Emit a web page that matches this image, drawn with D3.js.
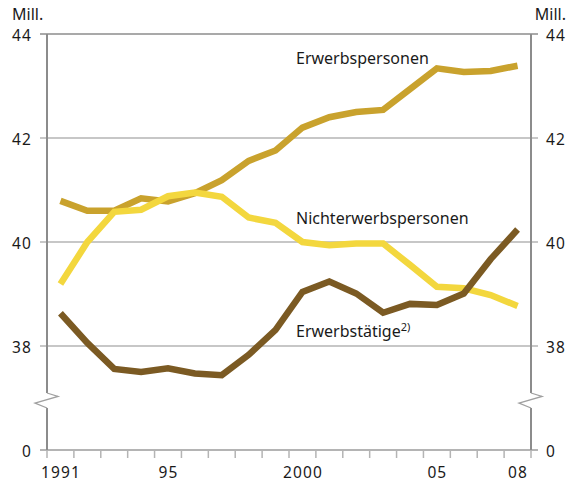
<!DOCTYPE html>
<html>
<head>
<meta charset="utf-8">
<script src="https://cdn.jsdelivr.net/npm/d3@7"></script>
<style>
  body { margin: 0; background: #fff; }
  text { font-family: "Noto Sans", sans-serif; fill: #1a1a1a; }
  .num { font-size: 15.5px; letter-spacing: 1.1px; }
</style>
</head>
<body>
<div id="container"></div>
<script>
var width = 570;
var height = 483;

var years = [1991, 1992, 1993, 1994, 1995, 1996, 1997, 1998, 1999, 2000,
             2001, 2002, 2003, 2004, 2005, 2006, 2007, 2008];
var yearLabels = {1991: "1991", 1995: "95", 2000: "2000", 2005: "05", 2008: "08"};
var yTicks = [38, 40, 42, 44];

var erwerbspersonen = [40.79, 40.6, 40.6, 40.84, 40.78, 40.94, 41.19, 41.56, 41.76, 42.2,
                       42.4, 42.5, 42.54, 42.94, 43.34, 43.27, 43.29, 43.39];
var nichterwerbspersonen = [39.19, 40.0, 40.58, 40.62, 40.88, 40.95, 40.87, 40.47, 40.37, 40.0,
                            39.94, 39.97, 39.97, 39.56, 39.14, 39.11, 38.98, 38.77];
var erwerbstaetige = [38.63, 38.06, 37.56, 37.5, 37.57, 37.47, 37.44, 37.83, 38.31, 39.04,
                      39.24, 39.01, 38.64, 38.81, 38.79, 39.01, 39.67, 40.24];

var series = [
  {name: "Erwerbspersonen", values: erwerbspersonen, color: "#c9a22d"},
  {name: "Nichterwerbspersonen", values: nichterwerbspersonen, color: "#f3d73e"},
  {name: "Erwerbstätige", values: erwerbstaetige, color: "#7b5a23"}
];

var left = 47, right = 531, baseY = 450;

var xScale = d3.scaleBand().domain(years).range([left, right]);
var yScale = d3.scaleLinear().domain([38, 44]).range([346, 34]);

var svg = d3.select('#container').append('svg')
    .attr('width', width).attr('height', height);

// horizontal grid lines
svg.append('g').selectAll('line')
    .data(yTicks)
    .enter().append('line')
    .attr('x1', left - 7).attr('x2', right + 7)
    .attr('y1', function(d){ return yScale(d); })
    .attr('y2', function(d){ return yScale(d); })
    .attr('stroke', function(d){ return d === 44 ? '#8c8c8c' : '#b4b4b4'; })
    .attr('stroke-width', 1.5);

// baseline + year ticks
svg.append('line')
    .attr('x1', left - 7).attr('x2', right + 7)
    .attr('y1', baseY).attr('y2', baseY)
    .attr('stroke', '#b4b4b4').attr('stroke-width', 2);

var tickPos = years.map(function(d){ return xScale(d); }).concat([right]);
svg.append('g').selectAll('line')
    .data(tickPos)
    .enter().append('line')
    .attr('x1', function(d){ return d; }).attr('x2', function(d){ return d; })
    .attr('y1', baseY).attr('y2', baseY + 8)
    .attr('stroke', '#b4b4b4').attr('stroke-width', 1.5);

// vertical axes with break
var breakTop = 393, breakBot = 408;
[left, right].forEach(function(x){
  svg.append('line')
    .attr('x1', x).attr('x2', x).attr('y1', 34).attr('y2', breakTop)
    .attr('stroke', '#8c8c8c').attr('stroke-width', 2);
  svg.append('line')
    .attr('x1', x).attr('x2', x).attr('y1', breakBot).attr('y2', baseY)
    .attr('stroke', '#8c8c8c').attr('stroke-width', 2);
  svg.append('polyline')
    .attr('points', [[x, breakTop], [x + 11, breakTop + 3.5], [x - 12, breakTop + 10], [x, breakBot]].join(' '))
    .attr('fill', 'none')
    .attr('stroke', '#a0a0a0').attr('stroke-width', 1.3);
});

// y labels
var yLabelData = yTicks.map(function(d){ return {v: d, y: yScale(d)}; }).concat([{v: 0, y: baseY}]);
svg.append('g').selectAll('text')
    .data(yLabelData)
    .enter().append('text')
    .attr('class', 'num')
    .attr('x', 32).attr('y', function(d){ return d.y + 6.5; })
    .attr('text-anchor', 'end')
    .text(function(d){ return d.v; });
svg.append('g').selectAll('text')
    .data(yLabelData)
    .enter().append('text')
    .attr('class', 'num')
    .attr('x', 546).attr('y', function(d){ return d.y + 6.5; })
    .attr('text-anchor', 'start')
    .text(function(d){ return d.v; });

svg.append('text').attr('x', 12).attr('y', 20).attr('font-size', '16px').text('Mill.');
svg.append('text').attr('x', 566).attr('y', 20).attr('text-anchor', 'end').attr('font-size', '16px').text('Mill.');

// x labels
svg.append('g').selectAll('text')
    .data(years.filter(function(d){ return yearLabels[d]; }))
    .enter().append('text')
    .attr('class', 'num')
    .attr('x', function(d){ return xScale(d) + xScale.bandwidth() / 2 + 0.5; })
    .attr('y', 478)
    .attr('text-anchor', 'middle')
    .text(function(d){ return yearLabels[d]; });

// lines
var line = d3.line()
    .x(function(d, i){ return xScale(years[i]) + xScale.bandwidth() / 2; })
    .y(function(d){ return yScale(d); });

svg.append('g').selectAll('path')
    .data(series)
    .enter().append('path')
    .attr('d', function(d){ return line(d.values); })
    .attr('fill', 'none')
    .attr('stroke', function(d){ return d.color; })
    .attr('stroke-width', 6.5)
    .attr('stroke-linejoin', 'miter');

// series labels
svg.append('text').attr('x', 296).attr('y', 64).attr('font-size', '16px').text('Erwerbspersonen');
svg.append('text').attr('x', 296).attr('y', 224).attr('font-size', '16px').text('Nichterwerbspersonen');
var et = svg.append('text').attr('x', 296).attr('y', 337).attr('font-size', '16px');
et.append('tspan').text('Erwerbstätige');
et.append('tspan').attr('font-size', '11px').attr('dy', '-6').text('2)');
</script>
</body>
</html>
